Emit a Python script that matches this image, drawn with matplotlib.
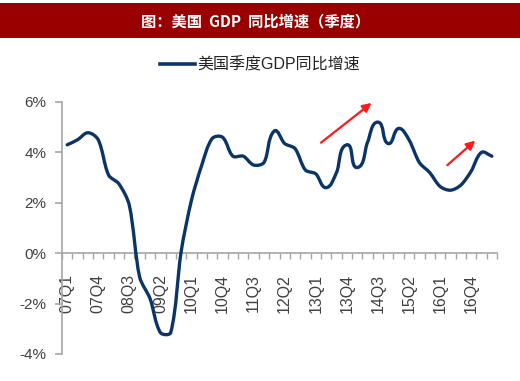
import numpy as np
import matplotlib
matplotlib.use("Agg")
import matplotlib.pyplot as plt
from matplotlib.path import Path
from matplotlib.patches import PathPatch, Rectangle
from matplotlib.lines import Line2D

plt.rcParams['font.family'] = ['Liberation Sans', 'Noto Sans CJK SC']

# quarters 07Q1 .. 17Q2
years = list(range(7, 18))
quarters = [f"{y:02d}Q{q}" for y in years for q in range(1, 5)][:42]

# US GDP growth yoy (%)
gdp_yoy = [4.3, 4.5, 4.78, 4.5, 3.1, 2.75, 1.9, -0.95, -1.8, -3.15,
           -3.15, 0.05, 2.1, 3.5, 4.55, 4.6, 3.85, 3.85, 3.5, 3.6,
           4.85, 4.35, 4.15, 3.3, 3.15, 2.6, 3.2, 4.3, 3.4, 4.4,
           5.2, 4.35, 4.95, 4.5, 3.6, 3.2, 2.65, 2.5, 2.7, 3.25,
           4.0, 3.85]

title = "图：美国  GDP  同比增速（季度）"
series_name = "美国季度GDP同比增速"
line_color = "#0b3467"
axis_color = "#a6a6a6"
text_color = "#404040"


def smooth_path(ax, xs, ys, t=0.3):
    # smoothed line like excel: handles follow the neighbour direction,
    # scaled by segment length (measured in pixels, converted back)
    disp = ax.transData.transform(np.column_stack([xs, ys]))
    n = len(disp)
    verts = [disp[0]]
    codes = [Path.MOVETO]
    tang = []
    for i in range(n):
        a = disp[max(i - 1, 0)]
        b = disp[min(i + 1, n - 1)]
        d = b - a
        tang.append(d / np.hypot(*d))
    for i in range(n - 1):
        seg = np.hypot(*(disp[i + 1] - disp[i]))
        c1 = disp[i] + tang[i] * seg * t
        c2 = disp[i + 1] - tang[i + 1] * seg * t
        verts += [c1, c2, disp[i + 1]]
        codes += [Path.CURVE4] * 3
    data = ax.transData.inverted().transform(np.array(verts))
    return Path(data, codes)


fig = plt.figure(figsize=(5.2, 3.81), dpi=100)

# title banner
fig.patches.append(Rectangle((0, 0.9), 1, 0.092, transform=fig.transFigure,
                             facecolor="#990000", edgecolor="none", zorder=0))
fig.text(0.492, 0.944, title, color="white", fontsize=11, fontweight="bold",
         ha="center", va="center", family=['Noto Sans CJK SC'])

ax = fig.add_axes([0.1192, 0.0709, 0.8366, 0.6614])
ax.set_xlim(-0.5, len(quarters) - 0.5)
ax.set_ylim(-4, 6)

x = np.arange(len(quarters))
ax.add_patch(PathPatch(smooth_path(ax, x, gdp_yoy), facecolor="none",
                       edgecolor=line_color, lw=2.4, capstyle="round",
                       joinstyle="round", zorder=3))

ax.spines['top'].set_visible(False)
ax.spines['right'].set_visible(False)
ax.spines['bottom'].set_position(('data', 0))
ax.spines['left'].set_color(axis_color)
ax.spines['bottom'].set_color(axis_color)
ax.spines['left'].set_linewidth(1.2)
ax.spines['bottom'].set_linewidth(1.2)

ax.set_yticks([-4, -2, 0, 2, 4, 6])
ax.set_yticklabels([f"{v}%" for v in [-4, -2, 0, 2, 4, 6]])
ax.tick_params(axis='y', direction='out', length=5, width=1.2,
               color=axis_color, labelsize=11, labelcolor=text_color, pad=6)

# tick marks at category boundaries, labels every 3 quarters
ax.set_xticks(np.arange(-0.5, len(quarters), 1.0))
ax.set_xticklabels([])
ax.set_xticks(x[::3], minor=True)
ax.set_xticklabels(quarters[::3], minor=True, rotation=90)
ax.tick_params(axis='x', which='major', direction='out', length=4, width=1,
               color=axis_color)
ax.tick_params(axis='x', which='minor', length=0, labelsize=11.5,
               labelcolor=text_color, pad=15)

# red arrows
arrow = dict(arrowstyle="-|>", color="#ff1a1a", lw=1.6, mutation_scale=13)
ax.annotate("", xy=(29.6, 6.03), xytext=(24.3, 4.32), arrowprops=arrow,
            annotation_clip=False)
ax.annotate("", xy=(39.6, 4.54), xytext=(36.5, 3.42), arrowprops=arrow,
            annotation_clip=False)

handle = Line2D([], [], color=line_color, lw=2.6)
fig.legend([handle], [series_name], loc="center", bbox_to_anchor=(0.5, 0.829),
           frameon=False, fontsize=11.5, handlelength=2.2, handletextpad=0.2,
           labelcolor="#222222")

fig.savefig("out.png", dpi=100)
